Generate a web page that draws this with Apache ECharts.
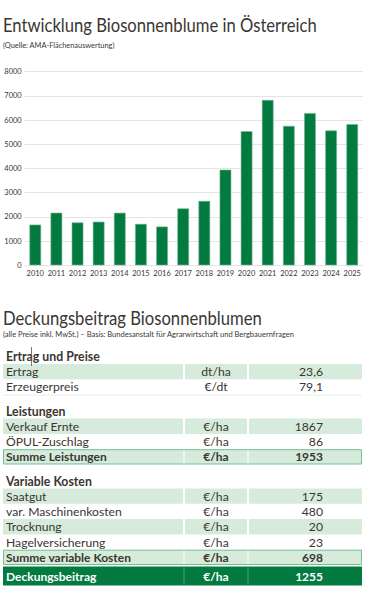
<!DOCTYPE html>
<html>
<head>
<meta charset="utf-8">
<script src="https://cdn.jsdelivr.net/npm/echarts@6/dist/echarts.min.js"></script>
<style>
html,body{margin:0;padding:0;background:#fff;}
#c{width:369px;height:590px;}
</style>
</head>
<body>
<div id="c"></div>
<script>
// ---- Chart data ----
const years = ['2010','2011','2012','2013','2014','2015','2016','2017','2018','2019','2020','2021','2022','2023','2024','2025'];
const areaValues = [1680, 2170, 1770, 1800, 2170, 1710, 1600, 2350, 2660, 3950, 5540, 6830, 5760, 6290, 5570, 5830];
const yTicks = [0, 1000, 2000, 3000, 4000, 5000, 6000, 7000, 8000];

// ---- Titles ----
const chartTitle = 'Entwicklung Biosonnenblume in Österreich';
const chartSource = '(Quelle: AMA-Flächenauswertung)';
const tableTitle = 'Deckungsbeitrag Biosonnenblumen';
const tableSource = '(alle Preise inkl. MwSt.) – Basis: Bundesanstalt für Agrarwirtschaft und Bergbauernfragen';

// ---- Table data ----
const sectionTitles = ['Ertrag und Preise', 'Leistungen', 'Variable Kosten'];
const ertragLabels = ['Ertrag', 'Erzeugerpreis'];
const ertragUnits = ['dt/ha', '€/dt'];
const ertragValues = ['23,6', '79,1'];
const leistungLabels = ['Verkauf Ernte', 'ÖPUL-Zuschlag', 'Summe Leistungen'];
const leistungUnits = ['€/ha', '€/ha', '€/ha'];
const leistungValues = ['1867', '86', '1953'];
const kostenLabels = ['Saatgut', 'var. Maschinenkosten', 'Trocknung', 'Hagelversicherung', 'Summe variable Kosten'];
const kostenUnits = ['€/ha', '€/ha', '€/ha', '€/ha', '€/ha'];
const kostenValues = ['175', '480', '20', '23', '698'];
const resultLabel = 'Deckungsbeitrag';
const resultUnit = '€/ha';
const resultValue = '1255';

// ---- Styling ----
const FONT = 'Lato, "Noto Sans", sans-serif';
const TXT = '#3a3632';
const GREEN = '#037a3f';
const LIGHT = '#d6ebdb';
const BORDER = '#72bf92';

const measureCtx = document.createElement('canvas').getContext('2d');
function fitScale(text, font, width) {
  measureCtx.font = font;
  const w = measureCtx.measureText(text).width;
  return w > 0 ? width / w : 1;
}

const chart = echarts.init(document.getElementById('c'), null, {renderer: 'svg'});

// Build table graphics
const g = [];
const X0 = 3, X1 = 362, C1 = 184, C2 = 248;
const LX = 6, UX = 216, VX = 323;
const RH = 15.3, HH = 15, GAP = 9;
let y = 349;

function txt(x, yy, s, opts, sx) {
  g.push({type: 'text', x: x, y: yy, scaleX: sx || 1, style: Object.assign({
    text: s, fill: TXT, font: '12px ' + FONT, verticalAlign: 'middle'
  }, opts || {})});
}
function rect(x, yy, w, h, style) {
  g.push({type: 'rect', shape: {x: x, y: yy, width: w, height: h}, style: style});
}
function line(x1, y1, x2, y2, stroke, lw) {
  g.push({type: 'line', shape: {x1: x1, y1: y1, x2: x2, y2: y2}, style: {stroke: stroke, lineWidth: lw || 1}});
}
function heading(s) {
  txt(LX, y + HH / 2, s, {font: 'bold 12.3px ' + FONT});
  y += HH;
}
function row(label, unit, value, kind) {
  let fw = '', col = TXT, h = RH;
  if (kind === 'band') {
    rect(X0, y, C1 - 1 - X0, RH, {fill: LIGHT});
    rect(C1 + 1, y, C2 - C1 - 2, RH, {fill: LIGHT});
    rect(C2 + 1, y, X1 - C2 - 1, RH, {fill: LIGHT});
  } else if (kind === 'sum') {
    rect(X0 + 0.5, y + 0.5, X1 - X0 - 1, RH - 1, {fill: LIGHT, stroke: BORDER, lineWidth: 1});
    line(C1, y + 1, C1, y + RH - 1, '#ffffff', 1);
    line(C2, y + 1, C2, y + RH - 1, '#ffffff', 1);
    fw = 'bold ';
  } else if (kind === 'result') {
    h = 19;
    rect(X0, y, X1 - X0, h, {fill: GREEN});
    line(C1, y, C1, y + h, '#4b9d70', 1);
    line(C2, y, C2, y + h, '#4b9d70', 1);
    fw = 'bold ';
    col = '#ffffff';
  }
  const m = y + h / 2;
  const fs = fw ? '12px ' : '12.2px ';
  txt(LX, m, label, {font: fw + fs + FONT, fill: col});
  txt(UX, m, unit, {font: fw + fs + FONT, fill: col, align: 'center'});
  txt(VX, m, value, {font: fw + fs + FONT, fill: col, align: 'right'});
  y += h;
}

// Section 1
heading(sectionTitles[0]);
ertragLabels.forEach((l, i) => row(l, ertragUnits[i], ertragValues[i], i % 2 === 0 ? 'band' : 'plain'));
line(X0, y + 0.5, X1, y + 0.5, '#e3f0e6', 1);
y += GAP;
// Section 2
heading(sectionTitles[1]);
leistungLabels.forEach((l, i) => row(l, leistungUnits[i], leistungValues[i],
  i === leistungLabels.length - 1 ? 'sum' : (i % 2 === 0 ? 'band' : 'plain')));
y += GAP;
// Section 3
heading(sectionTitles[2]);
kostenLabels.forEach((l, i) => row(l, kostenUnits[i], kostenValues[i],
  i === kostenLabels.length - 1 ? 'sum' : (i % 2 === 0 ? 'band' : 'plain')));
y += 1.5;
row(resultLabel, resultUnit, resultValue, 'result');

// small text-cursor mark visible in the reference heading
line(31.5, 347, 31.5, 366, '#5a5550', 0.8);

// Titles
const TF = '18.5px ' + FONT;
txt(3, 25, chartTitle, {font: TF}, fitScale(chartTitle, TF, 314));
const SF = '8px ' + FONT;
txt(3, 45, chartSource, {font: SF}, fitScale(chartSource, SF, 112));
txt(3, 318, tableTitle, {font: TF}, fitScale(tableTitle, TF, 259));
const SF2 = '7.5px ' + FONT;
txt(3, 335, tableSource, {font: SF2}, fitScale(tableSource, SF2, 292));

chart.setOption({
  animation: false,
  grid: {left: 24.7, right: 6.2, top: 71.7, bottom: 324.7, containLabel: false},
  xAxis: {
    type: 'category', data: years,
    axisLine: {show: false}, axisTick: {show: false},
    axisLabel: {color: TXT, fontFamily: FONT, fontSize: 7.5, margin: 4, interval: 0}
  },
  yAxis: {
    type: 'value', min: yTicks[0], max: yTicks[yTicks.length - 1], interval: yTicks[1] - yTicks[0],
    axisLine: {show: false}, axisTick: {show: false},
    splitLine: {lineStyle: {color: '#e4e4e4', width: 1}},
    axisLabel: {color: TXT, fontFamily: FONT, fontSize: 7.5, margin: 3, formatter: v => String(v)}
  },
  series: [{
    type: 'bar', data: areaValues, barWidth: '55%',
    itemStyle: {color: GREEN, borderColor: '#6fb68d', borderWidth: 0.6}
  }],
  graphic: g
});
</script>
</body>
</html>
